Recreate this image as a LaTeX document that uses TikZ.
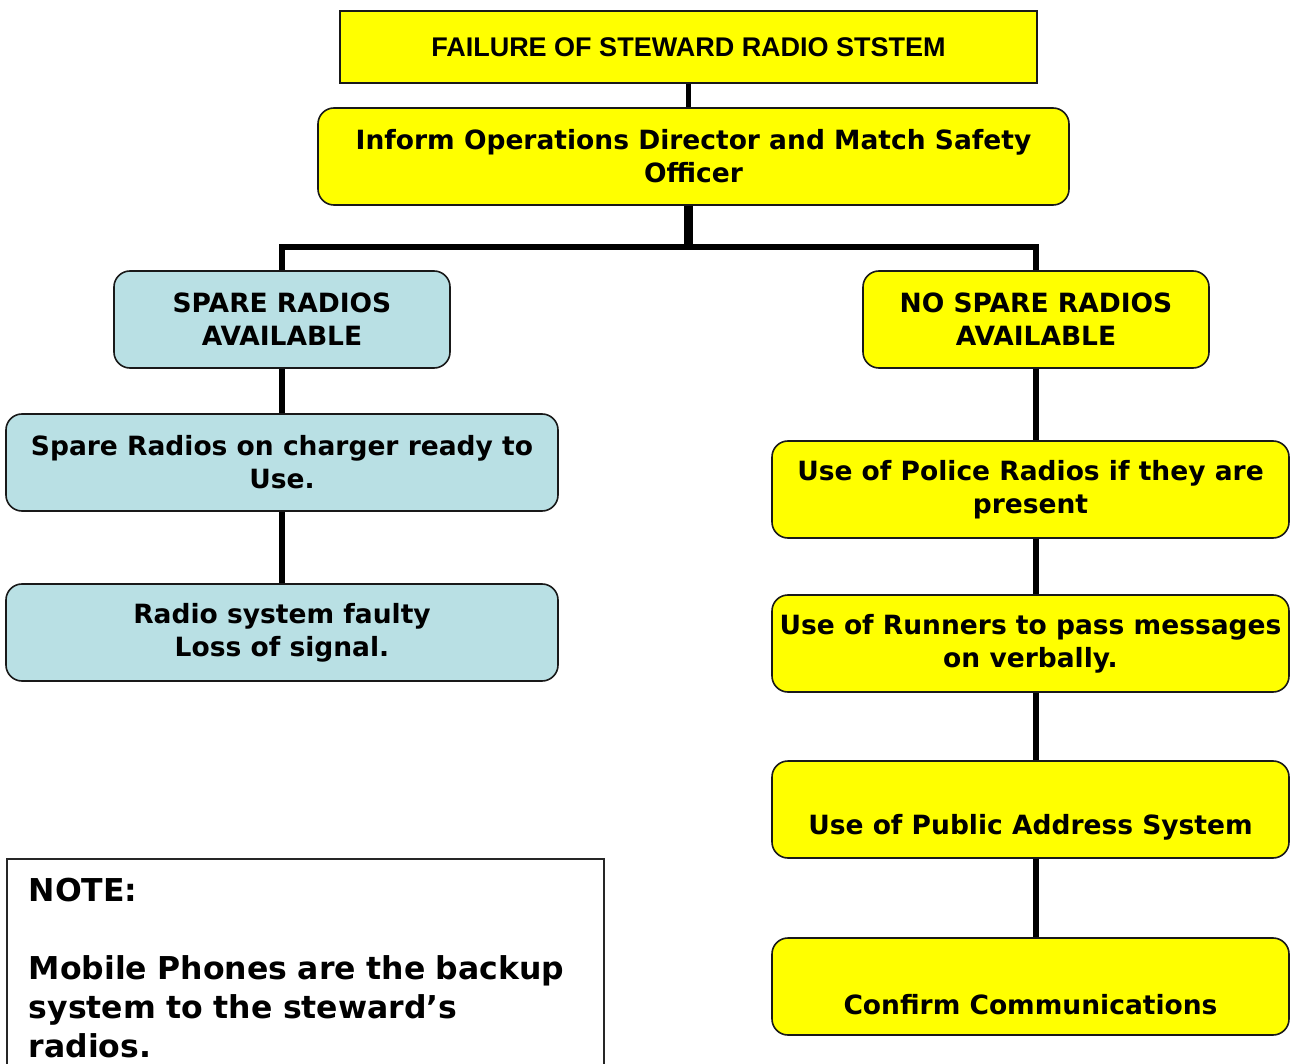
\documentclass[tikz,border=0pt]{standalone}
\usepackage{fontspec}
\setmainfont{DejaVu Sans}
\newfontfamily\arialfont{Liberation Sans}
\definecolor{yel}{RGB}{255,255,0}
\definecolor{lblue}{RGB}{185,224,228}
\tikzset{
  box/.style={draw=black!90, line width=1.6pt, rounded corners=16pt, align=center,
    font=\fontsize{26.5}{33}\selectfont\bfseries, inner sep=0pt, minimum height=97pt},
  ybox/.style={box, fill=yel},
  bbox/.style={box, fill=lblue},
  conn/.style={line width=5.5pt, black},
}
\begin{document}
\begin{tikzpicture}[x=1pt,y=-1pt]
\useasboundingbox (0,0) rectangle (1291,1064);
\clip (0,0) rectangle (1291,1064);

\node[draw=black!90, fill=yel, line width=1.6pt, minimum width=697pt, minimum height=72pt, inner sep=0pt,
  font=\arialfont\fontsize{27}{30}\selectfont\bfseries] (top) at (688.5,47) {FAILURE OF STEWARD RADIO STSTEM};
\node[ybox, minimum width=751pt] (inform) at (693.5,156.5) {Inform Operations Director and Match Safety\\Officer};
\node[bbox, minimum width=336pt] (spare) at (282,319.5) {SPARE RADIOS\\AVAILABLE};
\node[bbox, minimum width=552pt] (charger) at (282,462.5) {Spare Radios on charger ready to\\Use.};
\node[bbox, minimum width=552pt] (faulty) at (282,632.5) {Radio system faulty\\Loss of signal.};
\node[ybox, minimum width=346pt] (nospare) at (1036,319.5) {NO SPARE RADIOS\\AVAILABLE};
\node[ybox, minimum width=517pt] (police) at (1030.5,489.5) {Use of Police Radios if they are\\present};
\node[ybox, minimum width=517pt] (runners) at (1030.5,643.5) {Use of Runners to pass messages\\on verbally.};
\node[ybox, minimum width=517pt] (pa) at (1030.5,809.5) {\strut\\Use of Public Address System};
\node[ybox, minimum width=517pt] (confirm) at (1030.5,986.5) {\strut\\Confirm Communications};

\node[draw=black!85, line width=1.5pt, anchor=north west, inner xsep=22pt, inner ysep=19pt,
  text width=553pt, align=left, font=\fontsize{31.5}{39}\selectfont\bfseries] (note) at (6,858)
  {NOTE:\\[39pt]Mobile Phones are the backup\\system to the steward’s\\radios.};

\coordinate (hb) at (0,247);
\draw[conn] (top.south) -- (top.south |- inform.north);
\draw[line width=9pt] (inform.south -| top.south) -- (top.south |- hb);
\draw[conn] (spare.north) -- (spare.north |- hb) -- (nospare.north |- hb) -- (nospare.north);
\draw[conn] (spare.south) -- (charger.north);
\draw[conn] (charger.south) -- (faulty.north);
\draw[conn] (nospare.south) -- (nospare.south |- police.north);
\draw[conn] (police.south -| nospare.south) -- (runners.north -| nospare.south);
\draw[conn] (runners.south -| nospare.south) -- (pa.north -| nospare.south);
\draw[conn] (pa.south -| nospare.south) -- (confirm.north -| nospare.south);
\end{tikzpicture}
\end{document}
